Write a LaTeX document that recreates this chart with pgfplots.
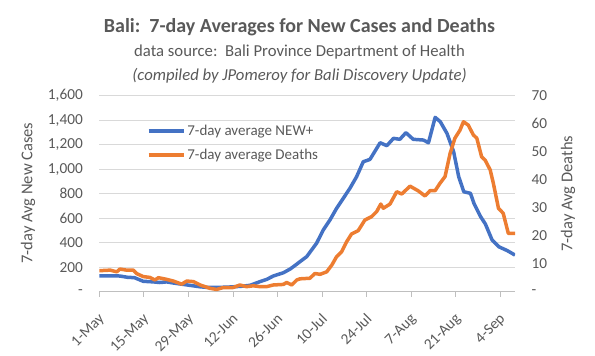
\documentclass[border=0pt]{standalone}
\usepackage{fontspec}
\setmainfont{Carlito}
\usepackage{pgfplots}
\pgfplotsset{compat=1.18}
\definecolor{cblue}{HTML}{4472C4}
\definecolor{corange}{HTML}{ED7D31}
\definecolor{tgray}{HTML}{595959}
\definecolor{ggray}{HTML}{D9D9D9}
\definecolor{agray}{HTML}{BFBFBF}
\pgfplotsset{
  common/.style={
    at={(0,0)}, anchor=south west, scale only axis,
    width=415.7bp, height=196bp,
    xmin=0, xmax=130.7,
    xtick={0,14,...,126},
    xticklabels={1-May,15-May,29-May,12-Jun,26-Jun,10-Jul,24-Jul,7-Aug,21-Aug,4-Sep},
    tick label style={font=\fontsize{15.3bp}{18bp}\selectfont, text=tgray},
    label style={font=\fontsize{16.5bp}{19bp}\selectfont, text=tgray},
    y axis line style={draw=none},
    ytick style={draw=none},
  },
}
\begin{document}
\begin{tikzpicture}
\useasboundingbox (-99.3bp,-64.3bp) rectangle (495.7bp,291.7bp);
\node[font=\fontsize{20bp}{24bp}\selectfont\bfseries, text=tgray] at (200.2bp,264.2bp) {Bali:\ \ 7-day Averages for New Cases and Deaths};
\node[font=\fontsize{16.7bp}{20bp}\selectfont, text=tgray] at (200.2bp,239.7bp) {data source:\ \ Bali Province Department of Health};
\node[font=\fontsize{16.7bp}{20bp}\selectfont\itshape, text=tgray] at (200.2bp,215.7bp) {(compiled by JPomeroy for Bali Discovery Update)};
\begin{axis}[common,
  ymin=0, ymax=1600,
  axis x line*=bottom, axis y line*=left,
  x axis line style={draw=agray, line width=0.75bp},
  xtick style={draw=agray, line width=0.75bp},
  xtick align=outside, major tick length=5bp,
  xticklabel style={rotate=45, anchor=north east, inner sep=0pt, xshift=-12bp, yshift=-10bp},
  ytick={0,200,...,1600},
  yticklabels={-,200,400,600,800,{1,000},{1,200},{1,400},{1,600}},
  yticklabel style={anchor=east, xshift=-13bp},
  ymajorgrids, grid style={ggray, line width=0.75bp},
  ylabel={7-day Avg New Cases},
  ylabel style={at={(axis description cs:-0.1715,0.503)}, anchor=center},
]
\addplot[cblue, line width=3.5bp, line join=round] coordinates {
(0,130) (3,130) (6.5,128) (9,117) (11,115) (13.8,85) (17,80) (19,75) (21.2,80) (23,72) (25.4,63) (28.5,52) (31.7,40) (34,35) (36.9,35) (40,37) (42.1,40) (45,45) (47.4,52) (50.5,82) (52.6,100) (54.7,128) (57.9,155) (60,185) (61,204) (63.1,245) (65.2,286) (68.3,395) (70.4,503) (72.5,585) (74.6,680) (76.7,762) (78.8,844) (80.9,939) (83,1061) (85.1,1080) (88.3,1216) (90.4,1192) (92.5,1252) (94.5,1244) (96.4,1298) (98.7,1244) (101.9,1238) (103.5,1216) (105.6,1423) (107.2,1388) (109.3,1293) (111.4,1143) (113,939) (114.6,816) (116.7,803) (117.8,721) (119.9,612) (121.4,552) (123.5,422) (125.6,367) (128.3,335) (130.7,299)
};
\end{axis}
\begin{axis}[common,
  ymin=0, ymax=70,
  axis x line=none, axis y line*=right,
  xtick=\empty,
  ytick={0,10,...,70},
  yticklabels={-,10,20,30,40,50,60,70},
  yticklabel style={anchor=west, xshift=13bp},
  ylabel={7-day Avg Deaths},
  ylabel style={at={(axis description cs:1.1275,0.5)}, anchor=center},
  legend style={at={(axis description cs:0.114,0.7587)}, anchor=west, draw=none, fill=none,
    font=\fontsize{15bp}{18bp}\selectfont, text=tgray, row sep=8bp, inner xsep=0pt},
  legend cell align=left,
  legend image code/.code={\draw[#1, line width=3.5bp] (0bp,0bp) -- (35bp,0bp);},
]
\addlegendimage{cblue}
\addlegendentry{7-day average NEW+}
\addplot[corange, line width=3.5bp, line join=round] coordinates {
(0,7.5) (3.4,7.7) (5.5,7.1) (6.5,8.1) (8.6,7.7) (10.7,7.7) (11.7,6.5) (13.8,5.4) (15.9,5.1) (17.5,4.2) (18.6,5.0) (21.2,4.4) (23.3,3.8) (25.9,2.7) (27.5,3.8) (29.6,3.6) (31.7,2.4) (34.8,1.2) (36.9,0.8) (39,1.5) (42.1,1.5) (44.2,2.4) (46.3,1.8) (48.4,2.1) (50.5,1.8) (52.6,1.8) (54.7,2.4) (57.9,2.6) (58.9,3.3) (60.5,2.4) (62.1,4.2) (63.1,4.6) (66.2,4.8) (67.8,6.5) (69.4,6.2) (71.5,7.1) (73.1,9.5) (74.6,12.5) (76.2,14.3) (77.8,17.9) (79.3,20.6) (81.4,21.8) (83.5,25.6) (85.6,26.8) (87.2,28.6) (88.5,31.3) (89.3,29.8) (91.4,31.3) (93.5,35.7) (95.1,34.9) (97.7,37.7) (100.3,36) (102.4,34.2) (104,36.1) (105.6,36.1) (107.1,38.7) (108.7,41.1) (110.3,49.4) (111.8,54.8) (113.4,57.7) (114.5,60.7) (116,59.5) (117.6,56) (118.7,54.8) (120.2,48.2) (121.3,47) (122.9,43.5) (123.9,38.7) (125.5,29.8) (127,28) (128.6,20.8) (130.7,20.8)
};
\addlegendentry{7-day average Deaths}
\end{axis}
\end{tikzpicture}
\end{document}
